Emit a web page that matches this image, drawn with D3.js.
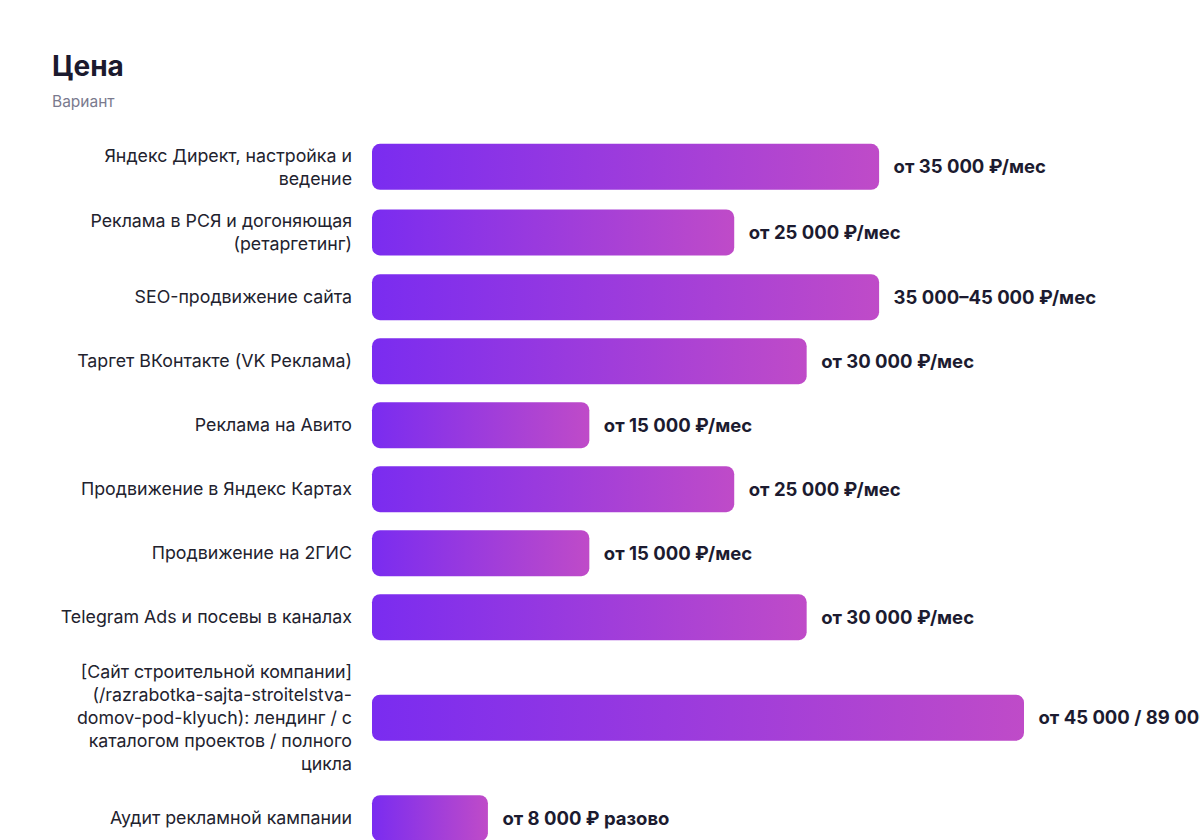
<!DOCTYPE html>
<html><head><meta charset="utf-8">
<script src="https://cdn.jsdelivr.net/npm/d3@7"></script>
<style>
html,body{margin:0;padding:0;background:#fff;overflow:hidden;}
svg{display:block;font-family:Inter,"Liberation Sans",Arial,sans-serif;}
</style></head>
<body>
<svg id="chart" width="1200" height="840"></svg>
<script>
const title = "Цена";
const subtitle = "Вариант";
const categories = [
  "Яндекс Директ, настройка и\nведение",
  "Реклама в РСЯ и догоняющая\n(ретаргетинг)",
  "SEO-продвижение сайта",
  "Таргет ВКонтакте (VK Реклама)",
  "Реклама на Авито",
  "Продвижение в Яндекс Картах",
  "Продвижение на 2ГИС",
  "Telegram Ads и посевы в каналах",
  "[Сайт строительной компании]\n(/razrabotka-sajta-stroitelstva-\ndomov-pod-klyuch): лендинг / с\nкаталогом проектов / полного\nцикла",
  "Аудит рекламной кампании"
];
const values = [35000, 25000, 35000, 30000, 15000, 25000, 15000, 30000, 45000, 8000];
const valueLabels = [
  "от 35 000 ₽/мес",
  "от 25 000 ₽/мес",
  "35 000–45 000 ₽/мес",
  "от 30 000 ₽/мес",
  "от 15 000 ₽/мес",
  "от 25 000 ₽/мес",
  "от 15 000 ₽/мес",
  "от 30 000 ₽/мес",
  "от 45 000 / 89 000 / 150 000 ₽",
  "от 8 000 ₽ разово"
];

const svg = d3.select("#chart");
svg.append("text").attr("x", 52).attr("y", 76)
  .attr("font-size", 28).attr("font-weight", 700).attr("fill", "#1b1a2e").text(title);
svg.append("text").attr("x", 52).attr("y", 107)
  .attr("font-size", 15.5).attr("fill", "#7a7a8e").text(subtitle);

const defs = svg.append("defs");
const grad = defs.append("linearGradient").attr("id", "barGrad")
  .attr("x1", "0%").attr("x2", "100%").attr("y1", "0%").attr("y2", "0%");
grad.append("stop").attr("offset", "0%").attr("stop-color", "#7a2cf0");
grad.append("stop").attr("offset", "100%").attr("stop-color", "#bf4bc8");

const x = d3.scaleLinear().domain([0, d3.max(values)]).range([372, 1024]);

const barH = 46, lineH = 23.8, gap = 18, chartTop = 134;
const rows = categories.map((c, i) => ({
  lines: c.split("\n"), value: values[i], label: valueLabels[i]
}));
let yCur = chartTop;
rows.forEach(r => {
  const content = Math.max(barH, r.lines.length * lineH);
  r.h = content + gap;
  r.cy = yCur + r.h / 2;
  yCur += r.h;
});

const g = svg.append("g");
const row = g.selectAll("g.row").data(rows).join("g").attr("class", "row");

row.append("rect")
  .attr("x", x(0)).attr("y", d => d.cy - barH / 2)
  .attr("width", d => x(d.value) - x(0)).attr("height", barH)
  .attr("rx", 8).attr("fill", "url(#barGrad)");

row.append("text")
  .attr("x", d => x(d.value) + 14.5).attr("y", d => d.cy)
  .attr("dy", "0.35em").attr("font-size", 18.5).attr("font-weight", 700)
  .attr("fill", "#1c1b30").text(d => d.label);

row.each(function(d) {
  const t = d3.select(this).append("text")
    .attr("text-anchor", "end").attr("font-size", 17.8).attr("fill", "#22222e");
  const n = d.lines.length;
  d.lines.forEach((ln, k) => {
    t.append("tspan").attr("x", 352)
      .attr("y", d.cy + (k - (n - 1) / 2) * 23)
      .attr("dy", "0.35em").text(ln);
  });
});
</script>
</body></html>
